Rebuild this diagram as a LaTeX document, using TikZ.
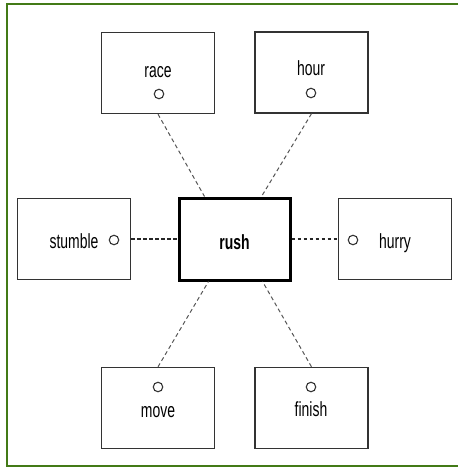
\documentclass[tikz,border=0pt]{standalone}
\usepackage{fontspec}
\setmainfont{Liberation Sans}[FakeStretch=0.68]
\usetikzlibrary{calc}
\definecolor{framegreen}{HTML}{437A17}
\definecolor{boxgray}{HTML}{333333}
\definecolor{dashgray}{HTML}{555555}
\tikzset{
  wordbox/.style={draw=boxgray, line width=1.3pt, fill=white, minimum width=113pt, minimum height=81pt, inner sep=0pt},
  corebox/.style={draw=black, line width=3pt, fill=white, minimum width=111pt, minimum height=82pt, inner sep=0pt},
  word/.style={anchor=base, inner sep=0pt, font=\fontsize{20.5}{24}\selectfont},
  coreword/.style={word, font=\fontsize{20.5}{24}\selectfont\bfseries},
  port/.style={circle, draw=boxgray, line width=1.1pt, minimum size=9.5pt, inner sep=0pt},
  link/.style={draw=dashgray, line width=1pt, dash pattern=on 4pt off 3pt},
  sidelink/.style={draw=black!85, line width=1.1pt, dash pattern=on 3.5pt off 2.5pt}
}
\begin{document}
\begin{tikzpicture}[x=1pt, y=-1pt]
  \useasboundingbox (0,0) rectangle (458,468);
  % open frame
  \draw[framegreen, line width=2.6pt] (458,4) -- (7,4) -- (7,466) -- (458,466);

  % boxes
  \node[wordbox] (race) at (158,73) {};
  \node[wordbox] (hour) at (311.5,72.5) {};
  \node[wordbox] (stumble) at (74,239) {};
  \node[corebox] (rush) at (234.5,239) {};
  \node[wordbox] (hurry) at (395,239) {};
  \node[wordbox] (move) at (158,408) {};
  \node[wordbox] (finish) at (311.5,408) {};

  % attachment points on the central box
  \coordinate (rushNW) at ($(rush.north)+(-30,0)$);
  \coordinate (rushNE) at ($(rush.north)+(27,0)$);
  \coordinate (rushSW) at ($(rush.south)+(-26,0)$);
  \coordinate (rushSE) at ($(rush.south)+(28,0)$);

  % dashed links
  \draw[link] (race.south) -- (rushNW);
  \draw[link] (hour.south) -- (rushNE);
  \draw[link] (move.north) -- (rushSW);
  \draw[link] (finish.north) -- (rushSE);
  \draw[sidelink] (stumble.east) -- (rush.west);
  \draw[sidelink] (rush.east) -- (hurry.west);

  % labels
  \node[word] (raceT) at (158,78) {race};
  \node[word] (hourT) at (311,76) {hour};
  \node[word] (stumbleT) at (74,248) {stumble};
  \node[coreword] (rushT) at (234.5,249) {rush};
  \node[word] (hurryT) at (395,248) {hurry};
  \node[word] (moveT) at (158,417) {move};
  \node[word] (finishT) at (311,416) {finish};

  % small ports
  \node[port] (raceP) at (159,94) {};
  \node[port] (hourP) at (311,93) {};
  \node[port] (stumbleP) at (114,240) {};
  \node[port] (hurryP) at (353,240) {};
  \node[port] (moveP) at (158,387) {};
  \node[port] (finishP) at (311,387) {};
\end{tikzpicture}
\end{document}
